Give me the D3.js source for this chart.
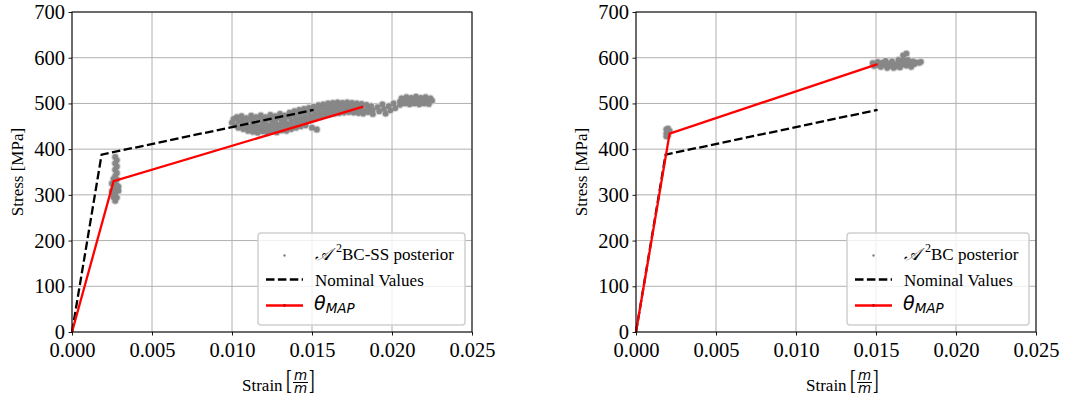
<!DOCTYPE html>
<html><head><meta charset="utf-8">
<script src="https://cdn.jsdelivr.net/npm/d3@7"></script>
<style>
html,body{margin:0;padding:0;background:#fff;}
svg{display:block;}
</style></head><body>
<svg id="chart" width="1078" height="399"></svg>
<script>
// axis ticks
const strainTicks = [0, 0.005, 0.010, 0.015, 0.020, 0.025];
const stressTicks = [0, 100, 200, 300, 400, 500, 600, 700];

// nominal bilinear material law (same in both panels)
const nominalStrain = [0, 0.00185, 0.0151];
const nominalStress = [0, 388, 486];

// MAP estimates of the bilinear law
const mapStrainSS = [0, 0.0026, 0.0182];
const mapStressSS = [0, 330, 493];
const mapStrainBC = [0, 0.0021, 0.0151];
const mapStressBC = [0, 434, 586];

// posterior samples, [strain, stress]: yield points and ultimate points
const posteriorSS = [
  // yield points
  [0.0027,383],[0.0028,376],[0.0027,369],[0.0028,362],[0.0027,355],[0.0028,348],[0.0027,341],
  [0.0026,335],[0.0028,334],[0.0027,327],[0.0026,320],[0.0028,321],[0.0027,313],[0.0025,308],
  [0.0029,309],[0.0027,301],[0.0026,295],[0.0028,294],[0.0027,287],[0.0026,300],[0.0029,318],
  [0.0025,325],
  // ultimate points
  [0.0100,458],[0.0101,466],[0.0102,452],
  [0.0103,470],[0.0104,460],[0.0104,447],
  [0.0106,472],[0.0106,463],[0.0107,454],[0.0107,444],
  [0.0109,468],[0.0109,458],[0.0110,449],[0.0110,440],
  [0.0112,473],[0.0112,464],[0.0113,455],[0.0113,446],[0.0113,438],
  [0.0115,470],[0.0115,460],[0.0116,451],[0.0116,442],[0.0116,436],
  [0.0118,474],[0.0118,465],[0.0119,456],[0.0119,447],[0.0119,439],
  [0.0121,470],[0.0121,461],[0.0122,452],[0.0122,443],[0.0122,436],
  [0.0124,475],[0.0124,466],[0.0125,457],[0.0125,448],[0.0125,439],
  [0.0127,472],[0.0127,463],[0.0128,454],[0.0128,445],[0.0128,437],
  [0.0130,477],[0.0130,468],[0.0131,459],[0.0131,450],[0.0131,441],
  [0.0133,474],[0.0133,465],[0.0134,456],[0.0134,447],[0.0134,440],
  [0.0136,480],[0.0136,471],[0.0137,462],[0.0137,453],[0.0137,444],
  [0.0139,483],[0.0139,474],[0.0140,465],[0.0140,456],[0.0140,447],
  [0.0142,486],[0.0142,477],[0.0143,468],[0.0143,459],[0.0143,450],
  [0.0145,488],[0.0145,479],[0.0146,470],[0.0146,461],[0.0146,452],
  [0.0148,490],[0.0148,481],[0.0149,472],[0.0149,463],[0.0150,447],
  [0.0151,493],[0.0151,484],[0.0152,476],[0.0152,467],[0.0153,443],
  [0.0154,496],[0.0154,487],[0.0155,479],[0.0155,471],
  [0.0157,498],[0.0157,490],[0.0158,482],[0.0158,474],
  [0.0160,500],[0.0160,492],[0.0161,484],[0.0161,476],
  [0.0163,501],[0.0163,493],[0.0164,486],[0.0164,478],
  [0.0166,502],[0.0166,494],[0.0167,487],[0.0167,479],
  [0.0169,501],[0.0169,494],[0.0170,487],[0.0170,480],
  [0.0172,502],[0.0172,495],[0.0173,488],[0.0173,481],
  [0.0175,501],[0.0175,494],[0.0176,487],[0.0176,480],
  [0.0178,500],[0.0178,493],[0.0179,486],[0.0179,479],
  [0.0181,499],[0.0181,492],[0.0182,485],[0.0182,478],
  [0.0184,497],[0.0185,489],[0.0185,481],
  [0.0187,494],[0.0188,486],[0.0188,477],
  [0.0191,492],[0.0192,483],[0.0194,498],[0.0195,488],[0.0196,478],[0.0198,494],[0.0199,485],
  [0.0201,500],[0.0202,490],
  [0.0205,504],[0.0205,497],[0.0206,511],
  [0.0208,508],[0.0208,500],[0.0209,514],
  [0.0211,505],[0.0211,498],[0.0212,512],
  [0.0214,508],[0.0214,500],[0.0215,515],
  [0.0217,505],[0.0217,498],[0.0218,512],
  [0.0220,508],[0.0220,500],[0.0221,514],
  [0.0223,505],[0.0223,499],[0.0224,511],[0.0225,506]
];
const posteriorBC = [
  // yield points
  [0.0019,443],[0.0020,438],[0.0019,434],[0.0020,430],[0.0021,440],[0.0020,445],[0.0019,428],
  // ultimate points
  [0.0148,588],[0.0149,582],[0.0151,591],[0.0151,584],[0.0153,580],[0.0154,589],[0.0155,584],
  [0.0156,593],[0.0157,578],[0.0158,587],[0.0159,582],[0.0160,592],[0.0161,578],[0.0162,586],
  [0.0163,581],[0.0164,595],[0.0165,589],[0.0165,579],[0.0166,584],[0.0167,605],[0.0167,597],
  [0.0168,590],[0.0169,583],[0.0169,609],[0.0170,595],[0.0171,588],[0.0172,580],[0.0173,592],
  [0.0174,586],[0.0175,590],[0.0177,589],[0.0178,591]
];

const SERIF = "'Liberation Serif','Times New Roman',serif";
const SANS = "'DejaVu Sans',sans-serif";

const panels = [
  { left: 72,  right: 472, posterior: posteriorSS, mapStrain: mapStrainSS, mapStress: mapStressSS,
    legendLabel: "BC-SS posterior", legendW: 207 },
  { left: 636, right: 1036, posterior: posteriorBC, mapStrain: mapStrainBC, mapStress: mapStressBC,
    legendLabel: "BC posterior", legendW: 182 }
];

const TOP = 12, BOTTOM = 332;
const DASH = "8.5,3.4";
const svg = d3.select("#chart");

panels.forEach(p => {
  const x = d3.scaleLinear().domain([0, 0.025]).range([p.left, p.right]);
  const y = d3.scaleLinear().domain([0, 700]).range([BOTTOM, TOP]);
  const g = svg.append("g");

  // grid
  g.append("g").selectAll("line").data(strainTicks).join("line")
    .attr("x1", d => x(d)).attr("x2", d => x(d)).attr("y1", TOP).attr("y2", BOTTOM)
    .attr("stroke", "#b0b0b0").attr("stroke-width", 1);
  g.append("g").selectAll("line").data(stressTicks).join("line")
    .attr("y1", d => y(d)).attr("y2", d => y(d)).attr("x1", p.left).attr("x2", p.right)
    .attr("stroke", "#b0b0b0").attr("stroke-width", 1);

  // posterior samples: soft halo first, then the sample cores
  g.append("g").selectAll("circle").data(p.posterior).join("circle")
    .attr("cx", d => x(d[0])).attr("cy", d => y(d[1])).attr("r", 3.9)
    .attr("fill", "#d6d6d6");
  g.append("g").selectAll("circle").data(p.posterior).join("circle")
    .attr("cx", d => x(d[0])).attr("cy", d => y(d[1])).attr("r", 2.9)
    .attr("fill", "#878787");

  const line = d3.line().x(d => x(d[0])).y(d => y(d[1]));
  // nominal law
  g.append("path").datum(nominalStrain.map((s, i) => [s, nominalStress[i]]))
    .attr("d", line).attr("fill", "none").attr("stroke", "#000")
    .attr("stroke-width", 2.3).attr("stroke-dasharray", DASH);
  // MAP law
  g.append("path").datum(p.mapStrain.map((s, i) => [s, p.mapStress[i]]))
    .attr("d", line).attr("fill", "none").attr("stroke", "#ff0000").attr("stroke-width", 2.3);

  // axes
  const xAxis = g.append("g").attr("transform", `translate(0,${BOTTOM})`)
    .call(d3.axisBottom(x).tickValues(strainTicks).tickFormat(d3.format(".3f"))
      .tickSize(3.5).tickPadding(7));
  const yAxis = g.append("g").attr("transform", `translate(${p.left},0)`)
    .call(d3.axisLeft(y).tickValues(stressTicks).tickSize(3.5).tickPadding(3.5));
  [xAxis, yAxis].forEach(a => {
    a.select(".domain").remove();
    a.selectAll("line").attr("stroke", "#000").attr("stroke-width", 0.9);
    a.selectAll("text").attr("font-family", SERIF).attr("font-size", 20.5).attr("fill", "#000");
  });

  // frame
  g.append("rect").attr("x", p.left).attr("y", TOP)
    .attr("width", p.right - p.left).attr("height", BOTTOM - TOP)
    .attr("fill", "none").attr("stroke", "#000").attr("stroke-width", 1);

  // y label
  g.append("text").attr("transform", `translate(${p.left - 49},${(TOP + BOTTOM) / 2}) rotate(-90)`)
    .attr("text-anchor", "middle").attr("font-family", SERIF).attr("font-size", 17)
    .text("Stress [MPa]");

  // x label: Strain [m/m]
  const xs = p.left + 170, yb = 391;
  const xl = g.append("g");
  xl.append("text").attr("x", xs).attr("y", yb).attr("font-family", SERIF).attr("font-size", 17).text("Strain");
  xl.append("text").attr("transform", `translate(${xs + 44},389.3) scale(1,1.56)`)
    .attr("font-family", SERIF).attr("font-size", 17).text("[");
  xl.append("text").attr("transform", `translate(${xs + 67},389.3) scale(1,1.56)`)
    .attr("font-family", SERIF).attr("font-size", 17).text("]");
  xl.append("text").attr("x", xs + 58.5).attr("y", 380).attr("text-anchor", "middle")
    .attr("font-family", SANS).attr("font-style", "italic").attr("font-size", 13.5).text("m");
  xl.append("text").attr("x", xs + 58.5).attr("y", 393).attr("text-anchor", "middle")
    .attr("font-family", SANS).attr("font-style", "italic").attr("font-size", 13.5).text("m");
  xl.append("line").attr("x1", xs + 51).attr("x2", xs + 66).attr("y1", 382.5).attr("y2", 382.5)
    .attr("stroke", "#000").attr("stroke-width", 1);

  // legend
  const lx = p.right - 7 - p.legendW, ly = 233;
  const lg = g.append("g");
  lg.append("rect").attr("x", lx).attr("y", ly).attr("width", p.legendW).attr("height", 92)
    .attr("rx", 3).attr("fill", "#fff").attr("fill-opacity", 0.8)
    .attr("stroke", "#d0d0d0").attr("stroke-width", 1.5);
  const hx0 = lx + 8, hx1 = lx + 45, tx = lx + 57;
  lg.append("circle").attr("cx", (hx0 + hx1) / 2).attr("cy", 255.5).attr("r", 1.2).attr("fill", "#808080");
  const t1 = lg.append("text").attr("x", tx).attr("y", 260).attr("font-family", SERIF).attr("font-size", 17);
  t1.append("tspan").attr("font-style", "italic").text("\u{1D49C}");
  t1.append("tspan").attr("font-size", 12).attr("dx", 5).attr("dy", -8).text("2");
  t1.append("tspan").attr("dy", 8).text(p.legendLabel);

  lg.append("line").attr("x1", hx0).attr("x2", hx1).attr("y1", 279.5).attr("y2", 279.5)
    .attr("stroke", "#000").attr("stroke-width", 2.3).attr("stroke-dasharray", DASH);
  lg.append("text").attr("x", tx).attr("y", 285.5).attr("font-family", SERIF).attr("font-size", 17)
    .text("Nominal Values");

  lg.append("line").attr("x1", hx0).attr("x2", hx1).attr("y1", 305.5).attr("y2", 305.5)
    .attr("stroke", "#ff0000").attr("stroke-width", 2.3);
  lg.append("circle").attr("cx", (hx0 + hx1) / 2).attr("cy", 305.5).attr("r", 1.4).attr("fill", "#cc0000");
  const t3 = lg.append("text").attr("x", tx - 1).attr("y", 310).attr("font-family", SANS)
    .attr("font-style", "italic").attr("font-size", 19);
  t3.append("tspan").text("\u03B8");
  t3.append("tspan").attr("font-size", 13.5).attr("dy", 3).text("MAP");
});
</script>
</body></html>
